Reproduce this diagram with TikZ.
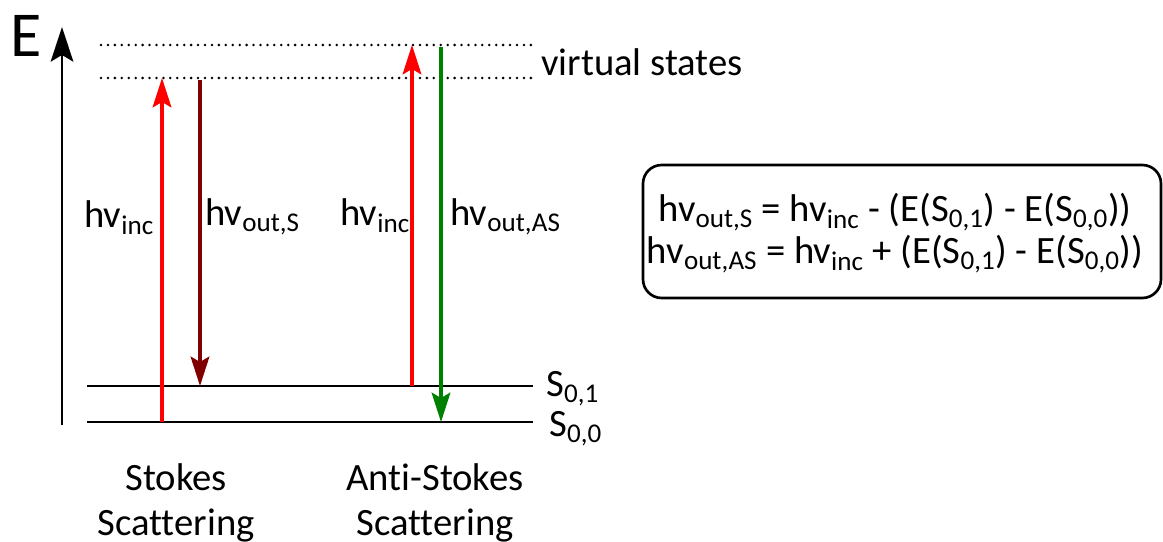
\documentclass[tikz,border=0pt]{standalone}
\usepackage{fontspec}
\setmainfont[Ligatures=NoCommon]{Carlito}
\usetikzlibrary{arrows.meta, positioning}

\definecolor{darkred}{RGB}{128,0,0}
\definecolor{darkgreen}{RGB}{0,128,0}

\newcommand{\lbl}{\fontsize{29}{34}\selectfont}
\newcommand{\sbs}[1]{\textsubscript{#1}}

\tikzset{
  level/.style={line width=1.6pt},
  virtual/.style={line width=2.1pt, line cap=round, dash pattern=on 0pt off 5.2pt},
  photon/.style={line width=2.6pt, -{Stealth[length=22pt, width=14pt, inset=4pt]}},
  txt/.style={font=\lbl, inner sep=0pt}
}

\begin{document}
\begin{tikzpicture}[x=0.75pt, y=-0.75pt]
  \useasboundingbox (0,0) rectangle (1163,542);
  \def\Xl{87}
  \def\Xr{533}

  % energy axis
  \coordinate (axb) at (62,425);
  \coordinate (axt) at (62,27);
  \draw[line width=1.7pt, -{Stealth[length=26pt, width=17pt, inset=5pt]}] (axb) -- (axt);
  \node[txt, font=\fontsize{48}{52}\selectfont, anchor=base west] (E) at (10,57) {E};

  % virtual states
  \draw[virtual] (101,45) coordinate (v1l) -- (\Xr,45) coordinate (v1r);
  \draw[virtual] (101,78) coordinate (v2l) -- (\Xr,78) coordinate (v2r);
  \node[txt, anchor=base west] (virt) at (541,75) {virtual states};

  % ground levels
  \draw[level] (\Xl,386) coordinate (s1l) -- (\Xr,386) coordinate (s1r);
  \draw[level] (\Xl,422) coordinate (s0l) -- (\Xr,422) coordinate (s0r);
  \node[txt, anchor=base west] (S01) at (546,396) {S\sbs{0,1}};
  \node[txt, anchor=base west] (S00) at (549,436) {S\sbs{0,0}};

  % Stokes
  \coordinate (sa) at (162,422);
  \coordinate (sb) at (162,78);
  \coordinate (sc) at (200,80);
  \coordinate (sd) at (200,386);
  \draw[photon, red] (sa) -- (sb);
  \draw[photon, darkred] (sc) -- (sd);
  \node[txt, anchor=base west] (inc1) at (84,227) {hv\sbs{inc}};
  \node[txt, anchor=base west] (outS) at (205,225) {hv\sbs{out,S}};

  % Anti-Stokes
  \coordinate (aa) at (412,386);
  \coordinate (ab) at (412,45);
  \coordinate (ac) at (441,47);
  \coordinate (ad) at (441,422);
  \draw[photon, red] (aa) -- (ab);
  \draw[photon, darkgreen] (ac) -- (ad);
  \node[txt, anchor=base west] (inc2) at (340,225) {hv\sbs{inc}};
  \node[txt, anchor=base west] (outAS) at (450,225) {hv\sbs{out,AS}};

  % captions
  \node[txt, anchor=base] (st1) at (176,490) {Stokes};
  \node[txt, anchor=base] (st2) at (176,535) {Scattering};
  \node[txt, anchor=base] (as1) at (435,490) {Anti-Stokes};
  \node[txt, anchor=base] (as2) at (435,535) {Scattering};

  % relations
  \draw[line width=2pt, rounded corners=14pt] (643,165) rectangle (1161,298);
  \node[txt, align=center, font=\fontsize{29}{32}\selectfont] (rel) at (895,233)
    {hv\sbs{out,S} = hv\sbs{inc} - (E(S\sbs{0,1}) - E(S\sbs{0,0}))\\
     hv\sbs{out,AS} = hv\sbs{inc} + (E(S\sbs{0,1}) - E(S\sbs{0,0}))};
\end{tikzpicture}
\end{document}
